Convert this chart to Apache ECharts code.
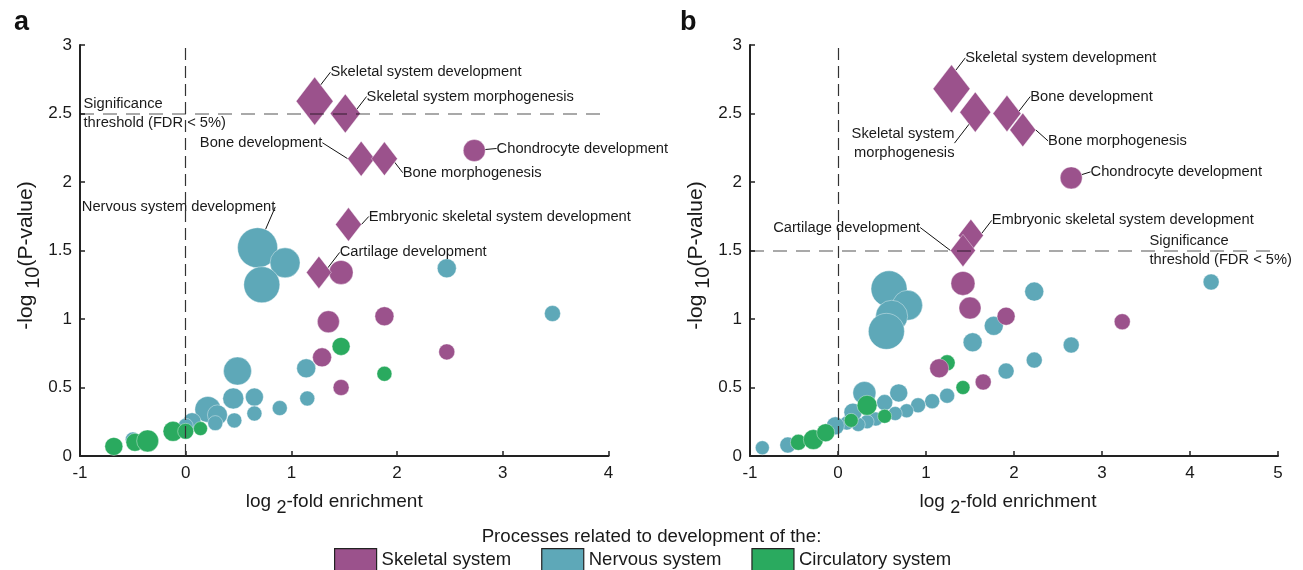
<!DOCTYPE html>
<html><head><meta charset="utf-8">
<script src="https://cdn.jsdelivr.net/npm/echarts@6/dist/echarts.min.js"></script>
<style>html,body{margin:0;padding:0;background:#fff}#c{width:1303px;height:570px}</style>
</head><body><div id="c"></div>
<script>
// ---------------- DATA ----------------
const categories = ['Skeletal system', 'Nervous system', 'Circulatory system'];
const xTicksA = [-1, 0, 1, 2, 3, 4];
const xTicksB = [-1, 0, 1, 2, 3, 4, 5];
const yTicks = [0, 0.5, 1, 1.5, 2, 2.5, 3];
const thresholdA = 2.5;
const thresholdB = 1.5;
const thresholdText = 'Significance\nthreshold (FDR < 5%)';

// [log2 fold enrichment, -log10 P, relative bubble size]
const aSkeletalDiamonds = [[1.22, 2.59, 3.7], [1.51, 2.50, 3.0], [1.66, 2.17, 2.7], [1.88, 2.17, 2.6], [1.54, 1.69, 2.6], [1.26, 1.34, 2.5]];
const aSkeletalDiamondNames = ['Skeletal system development', 'Skeletal system morphogenesis', 'Bone development', 'Bone morphogenesis', 'Embryonic skeletal system development', 'Cartilage development'];
const aSkeletalCircles = [[2.73, 2.23, 2.2], [1.47, 1.34, 2.4], [1.35, 0.98, 2.2], [1.88, 1.02, 1.9], [1.29, 0.72, 1.9], [2.47, 0.76, 1.6], [1.47, 0.50, 1.6]];
const aSkeletalCircleNames = ['Chondrocyte development'];
const aNervous = [[0.68, 1.52, 4.0], [0.94, 1.41, 3.0], [0.72, 1.25, 3.6], [2.47, 1.37, 1.9], [3.47, 1.04, 1.6], [1.14, 0.64, 1.9], [1.15, 0.42, 1.5], [0.49, 0.62, 2.8], [0.45, 0.42, 2.1], [0.65, 0.43, 1.8], [0.89, 0.35, 1.5], [0.65, 0.31, 1.5], [0.46, 0.26, 1.5], [0.21, 0.34, 2.6], [0.30, 0.30, 2.0], [0.28, 0.24, 1.5], [0.06, 0.25, 1.8], [0.0, 0.22, 1.5], [-0.5, 0.12, 1.5]];
const aNervousNames = ['Nervous system development'];
const aCirculatory = [[-0.68, 0.07, 1.8], [-0.48, 0.10, 1.8], [-0.36, 0.11, 2.2], [-0.12, 0.18, 2.0], [0.0, 0.18, 1.6], [0.14, 0.20, 1.4], [1.47, 0.80, 1.8], [1.88, 0.60, 1.5]];

const bSkeletalDiamonds = [[1.29, 2.68, 3.7], [1.56, 2.51, 3.1], [1.92, 2.50, 2.8], [2.10, 2.38, 2.6], [1.51, 1.61, 2.5], [1.42, 1.50, 2.5]];
const bSkeletalDiamondNames = ['Skeletal system development', 'Skeletal system\nmorphogenesis', 'Bone development', 'Bone morphogenesis', 'Embryonic skeletal system development', 'Cartilage development'];
const bSkeletalCircles = [[2.65, 2.03, 2.2], [1.42, 1.26, 2.4], [1.50, 1.08, 2.2], [1.91, 1.02, 1.8], [3.23, 0.98, 1.6], [1.65, 0.54, 1.6], [1.15, 0.64, 1.9]];
const bSkeletalCircleNames = ['Chondrocyte development'];
const bNervous = [[0.58, 1.22, 3.6], [0.79, 1.10, 3.0], [0.61, 1.02, 3.2], [0.55, 0.91, 3.6], [2.23, 1.20, 1.9], [4.24, 1.27, 1.6], [1.77, 0.95, 1.9], [1.53, 0.83, 1.9], [2.65, 0.81, 1.6], [2.23, 0.70, 1.6], [1.91, 0.62, 1.6], [1.24, 0.44, 1.5], [1.07, 0.40, 1.5], [0.91, 0.37, 1.5], [0.78, 0.33, 1.4], [0.69, 0.46, 1.8], [0.65, 0.31, 1.4], [0.53, 0.39, 1.6], [0.30, 0.46, 2.3], [0.43, 0.27, 1.4], [0.33, 0.25, 1.4], [0.23, 0.23, 1.4], [0.17, 0.32, 1.8], [0.10, 0.24, 1.4], [-0.03, 0.22, 1.8], [-0.86, 0.06, 1.4], [-0.57, 0.08, 1.6]];
const bCirculatory = [[-0.45, 0.10, 1.6], [-0.28, 0.12, 2.0], [-0.14, 0.17, 1.8], [0.15, 0.26, 1.4], [0.33, 0.37, 2.0], [0.53, 0.29, 1.4], [1.24, 0.68, 1.6], [1.42, 0.50, 1.4]];

// ---------------- STYLE ----------------
const FONT = '"Liberation Sans", Arial, sans-serif';
const TXT = '#1a1a1a';
const COLORS = { 'Skeletal system': '#9b528c', 'Nervous system': '#5ea8b8', 'Circulatory system': '#2aaa5f' };
const SIZE_SCALE = 10;
const DIAMOND_ASPECT = 1.3;
const ANNOT_FS = 14.7;
// label placement (offsets in px relative to default label position)
const labelPlacementA = {
  'Skeletal system development': { pos: 'right', dx: -8, dy: -29 },
  'Skeletal system morphogenesis': { pos: 'right', dx: 1, dy: -17 },
  'Bone development': { pos: 'left', dx: -20, dy: -16 },
  'Bone morphogenesis': { pos: 'right', dx: 0, dy: 14 },
  'Chondrocyte development': { pos: 'right', dx: 6, dy: -2 },
  'Embryonic skeletal system development': { pos: 'right', dx: 2, dy: -8 },
  'Cartilage development': { pos: 'right', dx: 3, dy: -20 },
  'Nervous system development': { pos: 'top', dx: -79, dy: -6 }
};
const labelPlacementB = {
  'Skeletal system development': { pos: 'right', dx: -10, dy: -31 },
  'Skeletal system\nmorphogenesis': { pos: 'left', dx: 0, dy: 31 },
  'Bone development': { pos: 'right', dx: 4, dy: -17 },
  'Bone morphogenesis': { pos: 'right', dx: 7, dy: 11 },
  'Chondrocyte development': { pos: 'right', dx: 3, dy: -6 },
  'Embryonic skeletal system development': { pos: 'right', dx: 3, dy: -15 },
  'Cartilage development': { pos: 'left', dx: -25, dy: -23 }
};

function buildData(points, names, placement) {
  return points.map((p, i) => {
    const item = { value: p };
    if (names && i < names.length) {
      item.name = names[i];
      item.label = { show: true, position: placement[names[i]].pos, formatter: names[i] };
    }
    return item;
  });
}

function scatterSeries(cat, points, names, placement, gridIdx, diamond, z) {
  return {
    type: 'scatter', name: cat, xAxisIndex: gridIdx, yAxisIndex: gridIdx, z: z,
    symbol: diamond ? 'diamond' : 'circle',
    symbolSize: diamond ? (v => [v[2] * SIZE_SCALE, v[2] * SIZE_SCALE * DIAMOND_ASPECT]) : (v => v[2] * SIZE_SCALE),
    itemStyle: { color: COLORS[cat], opacity: 1, borderColor: 'rgba(255,255,255,0.55)', borderWidth: 0.7 },
    emphasis: { disabled: true },
    label: { show: false, color: TXT, fontSize: ANNOT_FS, fontFamily: FONT, lineHeight: 19, distance: 5 },
    labelLine: { show: true, lineStyle: { color: '#111', width: 1, opacity: 1 }, smooth: false },
    labelLayout: function (params) {
      const cfg = placement[params.text];
      if (!cfg) return {};
      return { dx: cfg.dx, dy: cfg.dy };
    },
    data: buildData(points, names, placement)
  };
}

function annotationSeries(gridIdx, point, pos, threshold) {
  return {
    type: 'scatter', name: '_annot' + gridIdx, xAxisIndex: gridIdx, yAxisIndex: gridIdx, z: 10,
    symbolSize: 1, silent: true,
    itemStyle: { color: 'rgba(0,0,0,0)', opacity: 1 },
    label: { show: true, position: pos, distance: 3, formatter: thresholdText, color: TXT, opacity: 1, fontSize: ANNOT_FS, lineHeight: 19, fontFamily: FONT, align: 'left' },
    data: [point],
    markLine: {
      silent: true, symbol: ['none', 'none'], z: 10,
      label: { show: false },
      data: [
        { yAxis: threshold, lineStyle: { color: 'rgba(0,0,0,0.45)', width: 1.5, type: [14, 9], opacity: 1 } },
        { xAxis: 0, lineStyle: { color: '#333', width: 1.2, type: [12, 6], opacity: 1 } }
      ]
    }
  };
}

function richName(fs) {
  return {
    n: { fontSize: fs, color: TXT, fontFamily: FONT },
    s: { fontSize: fs - 1, color: TXT, fontFamily: FONT, padding: [Math.round(fs * 0.68), 0, 0, 0] }
  };
}

function xAxis(gridIdx, ticks, shift) {
  return {
    type: 'value', gridIndex: gridIdx, min: ticks[0], max: ticks[ticks.length - 1], interval: 1,
    axisLine: { show: true, onZero: false, lineStyle: { color: '#222', width: 2 } },
    axisTick: { show: true, inside: true, length: 5, lineStyle: { color: '#222', width: 1.5 } },
    axisLabel: { color: TXT, fontSize: 17, fontFamily: FONT, margin: 9 },
    splitLine: { show: false },
    name: '{n|log }{s|2}{n|-fold enrichment}', nameLocation: 'middle', nameGap: 30,
    nameTextStyle: { rich: richName(19), padding: [0, shift, 0, 0] }
  };
}
function yAxis(gridIdx) {
  return {
    type: 'value', gridIndex: gridIdx, min: yTicks[0], max: yTicks[yTicks.length - 1], interval: 0.5,
    axisLine: { show: true, onZero: false, lineStyle: { color: '#222', width: 2 } },
    axisTick: { show: true, inside: true, length: 5, lineStyle: { color: '#222', width: 1.5 } },
    axisLabel: { color: TXT, fontSize: 17, fontFamily: FONT, margin: 8 },
    splitLine: { show: false },
    name: '{n|-log }{s|10}{n|(P-value)}', nameLocation: 'middle', nameGap: 37,
    nameTextStyle: { rich: richName(21), padding: [0, 10, 0, 0] }
  };
}

const option = {
  animation: false,
  backgroundColor: '#fff',
  textStyle: { fontFamily: FONT },
  title: [
    { text: 'a', left: 9, top: 4, textStyle: { fontSize: 27, fontWeight: 'bold', color: '#111', fontFamily: FONT } },
    { text: 'b', left: 675, top: 4, textStyle: { fontSize: 27, fontWeight: 'bold', color: '#111', fontFamily: FONT } },
    { text: 'Processes related to development of the:', left: 'center', top: 522, textStyle: { fontSize: 18.7, fontWeight: 'normal', color: TXT, fontFamily: FONT } }
  ],
  legend: {
    data: categories, left: 329, top: 543, icon: 'rect', itemWidth: 42, itemHeight: 22, itemGap: 30,
    itemStyle: { borderColor: '#222', borderWidth: 1.2 },
    textStyle: { fontSize: 18.5, color: TXT, fontFamily: FONT }, selectedMode: false
  },
  grid: [
    { left: 80, top: 45, width: 528.5, height: 411 },
    { left: 750, top: 45, width: 528, height: 411 }
  ],
  xAxis: [xAxis(0, xTicksA, 20), xAxis(1, xTicksB, 12)],
  yAxis: [yAxis(0), yAxis(1)],
  series: [
    scatterSeries('Nervous system', aNervous, aNervousNames, labelPlacementA, 0, false, 2),
    scatterSeries('Circulatory system', aCirculatory, null, labelPlacementA, 0, false, 3),
    scatterSeries('Skeletal system', aSkeletalCircles, aSkeletalCircleNames, labelPlacementA, 0, false, 4),
    scatterSeries('Skeletal system', aSkeletalDiamonds, aSkeletalDiamondNames, labelPlacementA, 0, true, 5),
    annotationSeries(0, [xTicksA[0], thresholdA], 'right', thresholdA),
    scatterSeries('Nervous system', bNervous, null, labelPlacementB, 1, false, 2),
    scatterSeries('Circulatory system', bCirculatory, null, labelPlacementB, 1, false, 3),
    scatterSeries('Skeletal system', bSkeletalCircles, bSkeletalCircleNames, labelPlacementB, 1, false, 4),
    scatterSeries('Skeletal system', bSkeletalDiamonds, bSkeletalDiamondNames, labelPlacementB, 1, true, 5),
    annotationSeries(1, [3.5, thresholdB], 'right', thresholdB)
  ]
};
const chart = echarts.init(document.getElementById('c'), null, { renderer: 'canvas' });
chart.setOption(option);
</script>
</body></html>
